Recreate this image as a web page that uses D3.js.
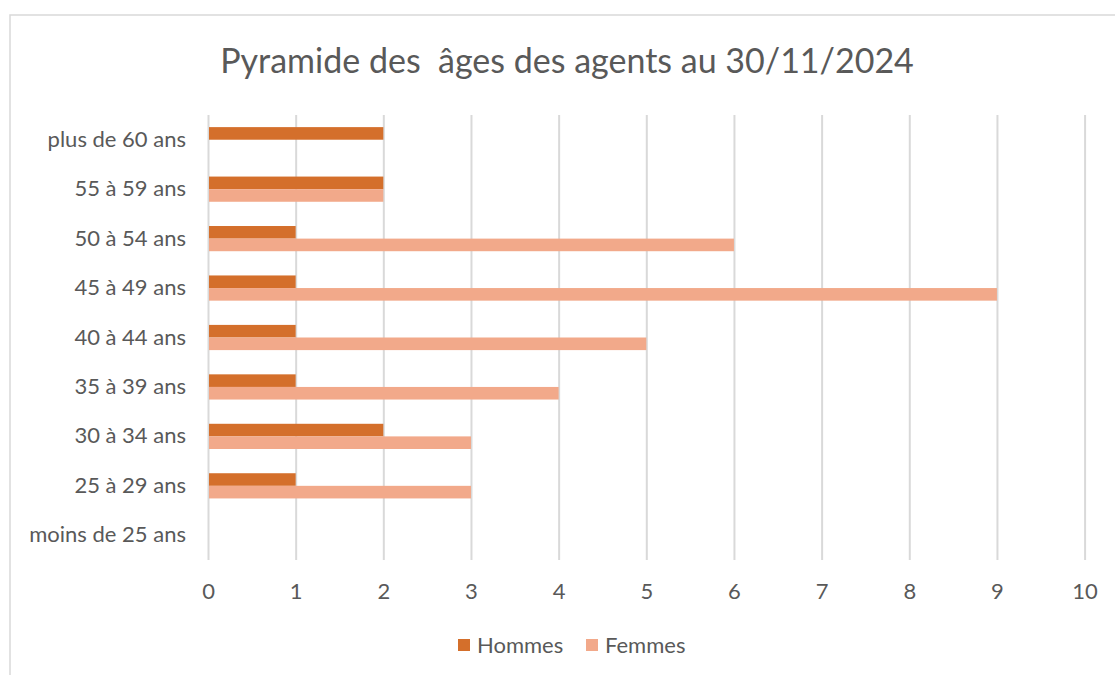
<!DOCTYPE html>
<html>
  <head>
    <meta charset="UTF-8" />
    <title>Pyramide des âges</title>
    <script src="https://cdn.jsdelivr.net/npm/d3@7"></script>
    <style>
      body { margin: 0; background: #ffffff; }
      svg { display: block; }
      text { font-family: Lato, "Open Sans", sans-serif; fill: #595959; }
    </style>
  </head>
  <body>
    <svg width="1115" height="675" id="mainsvg"></svg>
    <script>
        // data (top row first)
        const categories = ['plus de 60 ans', '55 à 59 ans', '50 à 54 ans', '45 à 49 ans', '40 à 44 ans',
                            '35 à 39 ans', '30 à 34 ans', '25 à 29 ans', 'moins de 25 ans'];
        const hommes = [2, 2, 1, 1, 1, 1, 2, 1, 0];
        const femmes = [0, 2, 6, 9, 5, 4, 3, 3, 0];
        const seriesNames = ['Hommes', 'Femmes'];
        const xTicks = [0, 1, 2, 3, 4, 5, 6, 7, 8, 9, 10];
        const title = 'Pyramide des  âges des agents au 30/11/2024';

        const colors = ['#D46F2B', '#F2A98A'];

        const svg = d3.select('#mainsvg');
        const margin = {top: 115, left: 208};
        const innerWidth = 1084.6 - margin.left;
        const innerHeight = 560 - margin.top;

        // chart frame (runs off the right and bottom of the picture)
        svg.append('path')
          .attr('d', 'M10,675 L10,15 L1115,15')
          .attr('fill', 'none')
          .attr('stroke', '#d9d9d9')
          .attr('stroke-width', 1.5);

        svg.append('text')
          .attr('x', 567).attr('y', 73)
          .attr('text-anchor', 'middle')
          .attr('font-size', '34px')
          .style('white-space', 'pre')
          .text(title);

        const xScale = d3.scaleLinear().domain([0, 10]).range([0, innerWidth]);
        const yScale = d3.scaleBand().domain(categories).range([0, innerHeight]);
        const barH = 12.6;

        const g = svg.append('g').attr('transform', `translate(${margin.left}, ${margin.top})`);

        // gridlines
        const xAxis = d3.axisBottom(xScale)
          .tickValues(xTicks)
          .tickSize(-innerHeight)
          .tickPadding(23)
          .tickFormat(d3.format('d'));
        const xAxisGroup = g.append('g')
          .attr('transform', `translate(0, ${innerHeight})`)
          .call(xAxis);
        xAxisGroup.select('.domain').remove();
        xAxisGroup.selectAll('line').attr('stroke', '#d9d9d9').attr('stroke-width', 2);
        xAxisGroup.selectAll('text').attr('font-size', '22px').attr('fill', '#595959')
          .attr('font-family', 'Lato, sans-serif');

        const yAxis = d3.axisLeft(yScale).tickSize(0).tickPadding(22);
        const yAxisGroup = g.append('g').call(yAxis);
        yAxisGroup.select('.domain').remove();
        yAxisGroup.selectAll('text').attr('font-size', '22px').attr('fill', '#595959')
          .attr('font-family', 'Lato, sans-serif');

        // bars
        const rows = categories.map((c, i) => ({cat: c, h: hommes[i], f: femmes[i]}));
        g.selectAll('.bar-h').data(rows).enter().append('rect')
          .attr('class', 'bar-h')
          .attr('x', xScale(0) + 1)
          .attr('y', d => yScale(d.cat) + yScale.bandwidth() / 2 - barH)
          .attr('width', d => Math.max(0, xScale(d.h) - xScale(0) - 1))
          .attr('height', barH)
          .attr('fill', colors[0]);

        g.selectAll('.bar-f').data(rows).enter().append('rect')
          .attr('class', 'bar-f')
          .attr('x', xScale(0) + 1)
          .attr('y', d => yScale(d.cat) + yScale.bandwidth() / 2)
          .attr('width', d => Math.max(0, xScale(d.f) - xScale(0) - 1))
          .attr('height', barH)
          .attr('fill', colors[1]);

        // legend
        const legendX = [458, 586];
        const legend = svg.selectAll('.legend').data(seriesNames).enter().append('g')
          .attr('class', 'legend')
          .attr('transform', (d, i) => `translate(${legendX[i]}, 639)`);
        legend.append('rect')
          .attr('width', 12).attr('height', 12)
          .attr('fill', (d, i) => colors[i]);
        legend.append('text')
          .attr('x', 19).attr('y', 6).attr('dy', '0.35em')
          .attr('font-size', '22px')
          .text(d => d);
    </script>
  </body>
</html>
